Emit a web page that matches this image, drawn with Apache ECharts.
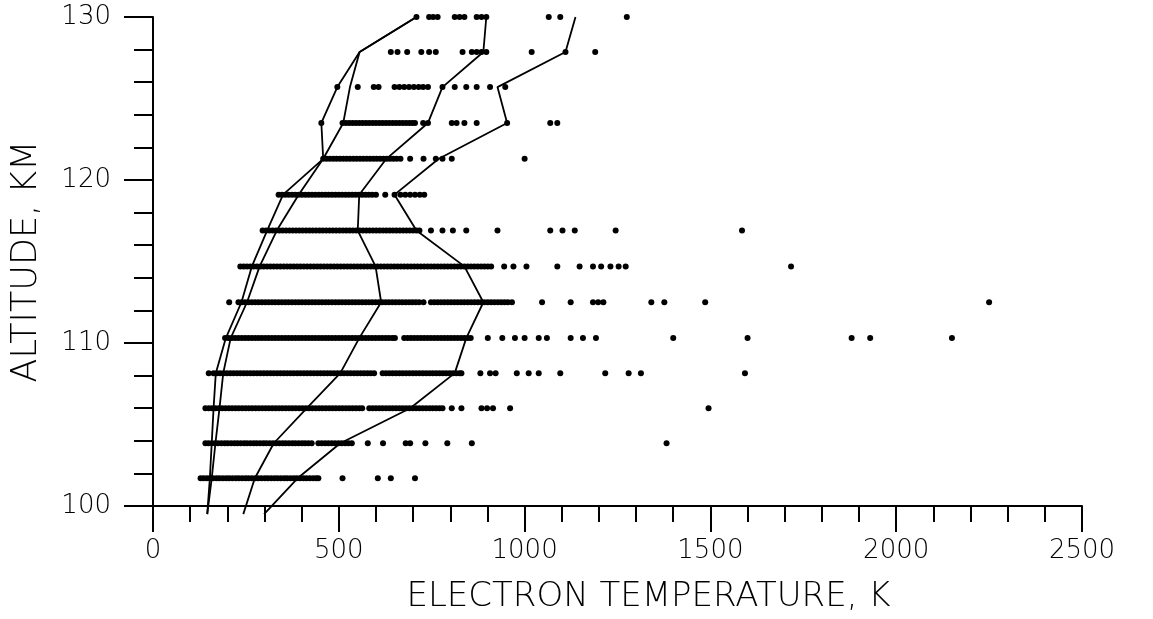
<!DOCTYPE html>
<html>
<head>
<meta charset="utf-8">
<script src="https://cdn.jsdelivr.net/npm/echarts@6/dist/echarts.min.js"></script>
<style>
  html, body { margin: 0; padding: 0; background: #fff; }
  #chart { width: 1153px; height: 619px; }
</style>
</head>
<body>
<div id="chart"></div>
<script>
// Altitude levels (km) at which the profile curves are evaluated
const altitudes = [99.5, 101.7, 103.85, 106.0, 108.15, 110.3, 112.5, 114.7, 116.9, 119.1, 121.3, 123.5, 125.7, 127.85, 130.0];

// Electron temperature profiles (K), one value per altitude level
const profileLow1 = [146, 153, 158, 163, 169, 196, 238, 266, 307, 350, 458, 453, 496, 556, 709];
const profileLow2 = [146, 158, 168, 179, 189, 209, 253, 287, 333, 392, 458, 512, 530, 556, 709];
const profileMid  = [243, 274, 325, 414, 504, 555, 614, 599, 551, 555, 628, 740, 779, 889, 897];
const profileHigh = [299, 389, 504, 692, 812, 843, 889, 838, 709, 650, 769, 953, 927, 1110, 1137];

// Individual temperature measurements (K) at each altitude level
const temps101_7 = [128,136,145,153,162,171,179,188,197,205,214,223,231,240,249,257,266,275,283,292,301,309,318,327,335,344,353,361,370,379,387,396,405,413,422,431,439,445,
  510,605,640,705];
const temps103_85 = [141,149,158,167,175,184,193,201,210,219,227,236,245,253,262,271,279,288,297,305,314,323,331,340,349,357,366,375,383,392,401,409,418,427,
  445,454,463,472,481,490,499,508,517,526,535,578,619,680,692,733,792,858,1382];
const temps106_0 = [141,150,159,168,177,186,195,204,213,222,231,240,249,258,267,276,285,294,303,312,321,330,339,348,357,366,375,384,393,402,411,420,429,438,447,456,
  465,474,483,492,501,510,519,528,537,546,555,563,582,591,600,609,618,627,636,645,654,663,672,681,690,699,708,717,726,735,744,753,762,771,779,
  804,830,884,899,915,961,1495];
const temps108_15 = [150,163,172,181,190,199,208,217,226,235,244,253,262,271,280,289,298,307,316,325,334,343,352,361,370,379,388,397,406,415,424,433,442,451,460,
  469,478,487,496,505,514,523,532,541,550,559,568,577,586,595,618,627,636,645,654,663,672,681,690,699,708,717,726,735,744,753,762,771,780,789,798,
  807,816,825,830,881,907,922,979,1011,1038,1096,1217,1280,1313,1593];
const temps110_3 = [194,203,212,221,230,239,248,257,266,275,284,293,302,311,320,329,338,347,356,365,374,383,392,401,410,419,428,437,446,455,464,473,482,491,500,
  509,518,527,536,545,554,563,572,581,590,599,608,617,626,635,644,651,676,685,694,703,712,721,730,739,748,757,766,775,784,793,802,811,820,829,838,
  847,855,901,940,974,1000,1038,1060,1124,1157,1192,1400,1600,1880,1930,2150];
const temps112_5 = [205,230,239,248,257,266,275,284,293,302,311,320,329,338,347,356,365,374,383,392,401,410,419,428,437,446,455,464,473,482,491,500,509,518,527,
  536,545,554,563,572,581,590,599,608,617,626,635,644,653,662,671,680,689,698,707,716,728,748,757,766,775,784,793,802,811,820,829,838,847,856,865,
  874,883,892,901,910,919,928,937,946,955,966,1047,1124,1184,1198,1212,1341,1376,1486,2250];
const temps114_7 = [235,244,253,262,271,280,289,298,307,316,325,334,343,352,361,370,379,388,397,406,415,424,433,442,451,460,469,478,487,496,505,514,523,532,541,
  550,559,568,577,586,595,604,613,622,631,640,649,658,667,676,685,694,703,712,721,730,739,748,757,766,775,784,793,802,811,820,829,838,847,856,865,
  874,883,892,901,910,945,970,1005,1088,1148,1184,1206,1231,1253,1272,1717];
const temps116_9 = [295,304,313,322,331,340,349,358,367,376,385,394,403,412,421,430,439,448,457,466,475,484,493,502,511,520,529,538,547,556,565,574,583,592,601,
  610,619,628,637,646,655,664,673,682,691,700,709,717,748,779,807,843,927,1069,1102,1135,1245,1585];
const temps119_1 = [338,347,356,365,374,383,392,401,410,419,428,437,446,455,464,473,482,491,500,509,518,527,536,545,554,563,572,581,590,600,
  625,650,666,679,692,705,718,730];
const temps121_3 = [458,467,476,485,494,503,512,521,530,539,548,557,566,575,584,593,602,611,620,629,638,647,656,666,692,728,761,779,804,1000];
const temps123_5 = [453,510,519,528,537,546,555,564,573,582,591,600,609,618,627,636,645,654,663,672,681,690,698,705,727,740,804,817,838,871,953,1069,1088];
const temps125_7 = [496,551,594,607,650,663,676,689,702,715,727,740,779,812,843,871,907,948];
const temps127_85 = [640,658,684,722,743,761,833,858,871,884,897,1019,1110,1190];
const temps130_0 = [709,743,754,766,812,825,838,871,884,897,1065,1096,1275];

const measurementRows = [
  [101.7, temps101_7], [103.85, temps103_85], [106.0, temps106_0], [108.15, temps108_15],
  [110.3, temps110_3], [112.5, temps112_5], [114.7, temps114_7], [116.9, temps116_9],
  [119.1, temps119_1], [121.3, temps121_3], [123.5, temps123_5], [125.7, temps125_7],
  [127.85, temps127_85], [130.0, temps130_0]
];

const FONT = '"DejaVu Sans", "Liberation Sans", sans-serif';

const scatterData = [];
measurementRows.forEach(([alt, temps]) => temps.forEach(t => scatterData.push([t, alt])));

function profileSeries(values) {
  return {
    type: 'line',
    data: values.map((t, i) => [t, altitudes[i]]),
    showSymbol: false,
    clip: false,
    z: 3,
    lineStyle: { color: '#000', width: 1.8 }
  };
}

const plainNumber = v => String(v);

const chart = echarts.init(document.getElementById('chart'));
chart.setOption({
  animation: false,
  backgroundColor: '#fff',
  grid: { left: 153, right: 71, top: 17, bottom: 112, containLabel: false },
  xAxis: {
    type: 'value',
    min: 0, max: 2500, interval: 500,
    name: 'ELECTRON TEMPERATURE, K',
    nameLocation: 'middle',
    nameGap: 74,
    nameTextStyle: { fontFamily: FONT, fontSize: 34, fontWeight: 200, color: '#000', padding: [0, 0, 0, 62] },
    axisLine: { show: true, lineStyle: { color: '#000', width: 2 } },
    axisTick: { show: true, length: 26, lineStyle: { color: '#000', width: 2 } },
    minorTick: { show: true, splitNumber: 5, length: 16, lineStyle: { color: '#000', width: 2 } },
    splitLine: { show: false },
    axisLabel: { fontFamily: FONT, fontSize: 26, fontWeight: 200, color: '#000', margin: 32, formatter: plainNumber }
  },
  yAxis: {
    type: 'value',
    min: 100, max: 130, interval: 10,
    name: 'ALTITUDE, KM',
    nameLocation: 'middle',
    nameGap: 109,
    nameTextStyle: { fontFamily: FONT, fontSize: 35, fontWeight: 200, color: '#000' },
    axisLine: { show: true, lineStyle: { color: '#000', width: 2 } },
    axisTick: { show: true, length: 29, lineStyle: { color: '#000', width: 2 } },
    minorTick: { show: true, splitNumber: 5, length: 19, lineStyle: { color: '#000', width: 2 } },
    splitLine: { show: false },
    axisLabel: { fontFamily: FONT, fontSize: 26, fontWeight: 200, color: '#000', margin: 42, formatter: plainNumber }
  },
  series: [
    {
      type: 'scatter',
      data: scatterData,
      symbol: 'circle',
      symbolSize: 6,
      z: 2,
      itemStyle: { color: '#000', opacity: 1 }
    },
    profileSeries(profileLow1),
    profileSeries(profileLow2),
    profileSeries(profileMid),
    profileSeries(profileHigh)
  ]
});
</script>
</body>
</html>
